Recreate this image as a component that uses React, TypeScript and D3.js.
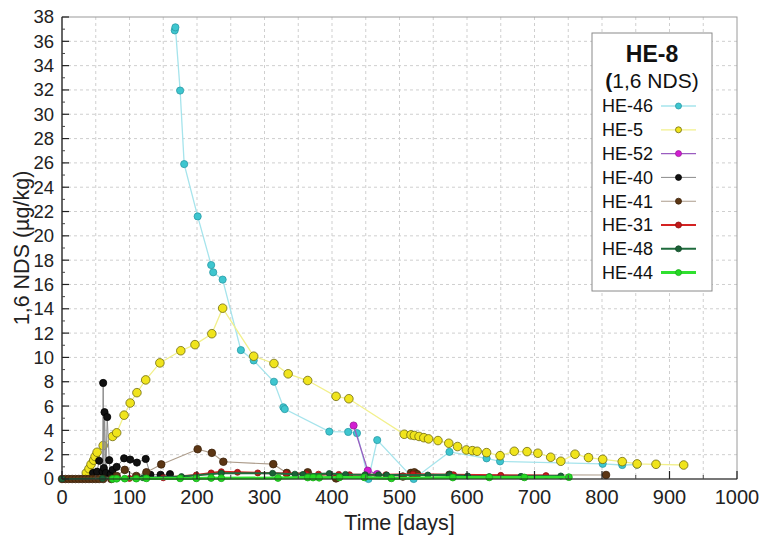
import React from 'react';
import * as d3 from 'd3';

// [day, value] pairs
const he46 = [
  [167, 36.9], [168, 37.15], [175, 31.95], [181, 25.9], [201, 21.6], [221, 17.6], [224, 17.0],
  [238, 16.4], [265, 10.6], [284, 9.75], [314, 8.0], [328, 5.9], [330, 5.75], [396, 3.9],
  [424, 3.87], [437, 3.77], [454, 0.0], [467, 3.2], [521, 0.0], [574, 2.23], [629, 1.7],
  [649, 1.45], [801, 1.25], [830, 1.15], [852, 1.18],
];
const he5 = [
  [36, 0.5], [40, 0.85], [43, 1.2], [47, 1.55], [49, 1.85], [52, 2.2], [61, 2.75], [75, 3.5],
  [81, 3.8], [92, 5.25], [101, 6.25], [111, 7.1], [124, 8.15], [145, 9.55], [176, 10.55],
  [197, 11.05], [222, 11.95], [238, 14.05], [284, 10.1], [314, 9.5], [335, 8.65], [364, 8.1],
  [406, 6.8], [425, 6.6], [507, 3.68], [517, 3.63], [522, 3.58], [529, 3.5], [536, 3.4],
  [543, 3.3], [557, 3.16], [573, 2.94], [586, 2.67], [599, 2.39], [608, 2.33], [615, 2.28],
  [629, 2.17], [649, 1.92], [670, 2.28], [689, 2.25], [705, 2.12], [724, 1.79], [739, 1.46],
  [760, 2.04], [780, 1.76], [801, 1.62], [830, 1.43], [852, 1.24], [880, 1.21], [921, 1.15],
];
const he52 = [[432, 4.4], [453, 0.69], [467, 0.41]];
const he40 = [
  [46, 0.5], [52, 0.6], [55, 1.5], [60, 0.6], [61, 7.9], [62, 0.9], [63, 5.5], [65, 0.5],
  [67, 5.1], [70, 1.55], [72, 0.4], [75, 0.75], [81, 1.0], [92, 1.7], [101, 1.6], [111, 1.35],
  [124, 1.65], [131, 0.35], [146, 0.35], [160, 0.4],
];
const he41 = [
  [0, 0], [5, 0], [10, 0], [15, 0], [20, 0], [25, 0], [30, 0], [35, 0], [40, 0], [45, 0],
  [50, 0], [55, 0], [61, 0], [73, 0], [81, 0.25], [93, 0.75], [110, 0.25], [125, 0.55],
  [147, 1.2], [201, 2.45], [222, 2.15], [239, 1.42], [313, 1.22], [333, 0.5], [364, 0.55],
  [406, 0.05], [505, 0.2], [517, 0.5], [522, 0.55], [526, 0.4], [574, 0.35], [806, 0.33],
];
const he31 = [
  [0, 0], [100, 0.05], [150, 0.1], [199, 0.33], [221, 0.5], [236, 0.6], [260, 0.55],
  [290, 0.5], [332, 0.45], [362, 0.42], [380, 0.4], [410, 0.38], [426, 0.35], [480, 0.35],
  [520, 0.4], [580, 0.35], [650, 0.3], [717, 0.28],
];
const he48 = [
  [0, 0], [60, 0.05], [120, 0.1], [177, 0.2], [236, 0.47], [312, 0.47], [345, 0.4],
  [357, 0.38], [396, 0.45], [420, 0.38], [449, 0.35], [469, 0.35], [481, 0.33], [542, 0.33],
  [574, 0.35], [601, 0.25], [633, 0.2], [680, 0.22], [739, 0.25],
];
const he44 = [
  [75, 0], [81, 0.02], [93, 0.03], [110, 0.03], [125, 0.05], [175, 0.05], [199, 0.05],
  [221, 0.08], [236, 0.06], [320, 0.08], [364, 0.12], [372, 0.12], [381, 0.1], [411, 0.13],
  [448, 0.13], [488, 0.05], [579, 0.12], [633, 0.13], [685, 0.13], [751, 0.15],
];

const seriesNames = ['HE-46', 'HE-5', 'HE-52', 'HE-40', 'HE-41', 'HE-31', 'HE-48', 'HE-44'];
const xTicks = [0, 100, 200, 300, 400, 500, 600, 700, 800, 900, 1000];
const yTicks = d3.range(0, 39, 2);

const series = [
  { name: 'HE-46', data: he46, line: '#a6e4ec', lw: 1.3, fill: '#3ec6cf', stroke: '#2a9ba6', r: 3.6 },
  { name: 'HE-5', data: he5, line: '#f2f08c', lw: 1.3, fill: '#f0e41c', stroke: '#6e6a10', r: 4.3 },
  { name: 'HE-52', data: he52, line: '#9a5cc0', lw: 1.3, fill: '#d21ed2', stroke: '#9a1a9a', r: 3.6 },
  { name: 'HE-40', data: he40, line: '#8a8a8a', lw: 1, fill: '#111', stroke: '#000', r: 3.6 },
  { name: 'HE-41', data: he41, line: '#ad9d8c', lw: 1.1, fill: '#5c3614', stroke: '#3c220a', r: 3.8 },
  { name: 'HE-31', data: he31, line: '#d42222', lw: 2, fill: '#c01a1a', stroke: '#901010', r: 3 },
  { name: 'HE-48', data: he48, line: '#1f6b3d', lw: 2, fill: '#1b6136', stroke: '#124a28', r: 3 },
  { name: 'HE-44', data: he44, line: '#2fe02f', lw: 3, fill: '#24d824', stroke: '#1aa81a', r: 3.4 },
];

const font = '"Liberation Sans", Arial, sans-serif';

export default function App() {
  const W = 761, H = 537;
  const m = { left: 62, right: 737, top: 17, bottom: 479 };
  const x = d3.scaleLinear().domain([0, 1000]).range([m.left, m.right]);
  const y = d3.scaleLinear().domain([0, 38]).range([m.bottom, m.top]);
  const line = d3.line<number[]>().x(d => x(d[0])).y(d => y(d[1]));

  const gridX = d3.range(50, 1000, 50);
  const gridY = d3.range(2, 38, 2);
  const minorY = d3.range(1, 38, 2);
  const minorX = d3.range(50, 1000, 100);

  const lg = { x: 592, y: 33, w: 120, h: 258 };

  return (
    <svg width={W} height={H} style={{ position: 'absolute', left: 0, top: 0, fontFamily: font }}>
      <rect width={W} height={H} fill="#fff" />
      {gridX.map(v => (
        <line key={'gx' + v} x1={x(v)} x2={x(v)} y1={m.top} y2={m.bottom} stroke="#cfcfcf" strokeDasharray="3,3" />
      ))}
      {gridY.map(v => (
        <line key={'gy' + v} x1={m.left} x2={m.right} y1={y(v)} y2={y(v)} stroke="#cfcfcf" strokeDasharray="3,3" />
      ))}
      <rect x={m.left} y={m.top} width={m.right - m.left} height={m.bottom - m.top} fill="none" stroke="#9a9a9a" />

      {series.map(s => (
        <g key={s.name}>
          <path d={line(s.data as number[][]) || ''} fill="none" stroke={s.line} strokeWidth={s.lw} />
          {s.data.map((d, i) => (
            <circle key={i} cx={x(d[0])} cy={y(d[1])} r={s.r} fill={s.fill} stroke={s.stroke} strokeWidth={0.8} />
          ))}
        </g>
      ))}

      {/* axes */}
      <line x1={m.left} x2={m.left} y1={m.top} y2={m.bottom} stroke="#222" strokeWidth={1.2} />
      <line x1={m.left} x2={m.right} y1={m.bottom} y2={m.bottom} stroke="#222" strokeWidth={1.2} />
      {yTicks.map(v => (
        <g key={'yt' + v}>
          <line x1={m.left} x2={m.left + 7} y1={y(v)} y2={y(v)} stroke="#222" strokeWidth={1.2} />
          <text x={m.left - 8} y={y(v)} dy="0.35em" textAnchor="end" fontSize={18.5} fill="#222">{v}</text>
        </g>
      ))}
      {minorY.map(v => (
        <line key={'my' + v} x1={m.left} x2={m.left + 3} y1={y(v)} y2={y(v)} stroke="#444" />
      ))}
      {xTicks.map(v => (
        <g key={'xt' + v}>
          <line x1={x(v)} x2={x(v)} y1={m.bottom} y2={m.bottom - 8} stroke="#222" strokeWidth={1.2} />
          <text x={x(v)} y={m.bottom + 25} textAnchor="middle" fontSize={20} fill="#222">{v}</text>
        </g>
      ))}
      {minorX.map(v => (
        <line key={'mx' + v} x1={x(v)} x2={x(v)} y1={m.bottom} y2={m.bottom - 4} stroke="#444" />
      ))}
      <text x={(m.left + m.right) / 2} y={530} textAnchor="middle" fontSize={21.5} fill="#222">Time [days]</text>
      <text transform={`translate(29,${(m.top + m.bottom) / 2}) rotate(-90)`} textAnchor="middle" fontSize={21.5} fill="#222">
        1,6 NDS (µg/kg)
      </text>

      {/* legend */}
      <rect x={lg.x} y={lg.y} width={lg.w} height={lg.h} fill="#fff" stroke="#8a8a8a" />
      <text x={lg.x + lg.w / 2} y={62} textAnchor="middle" fontSize={23} fontWeight="bold" fill="#111">HE-8</text>
      <text x={lg.x + lg.w / 2} y={88} textAnchor="middle" fontSize={21} fill="#111">
        <tspan fontWeight="bold">(</tspan>1,6 NDS)
      </text>
      {seriesNames.map((n, i) => {
        const s = series[i];
        const ly = 106 + i * 23.8;
        return (
          <g key={'lg' + n}>
            <text x={602} y={ly} dy="0.35em" fontSize={18} fill="#111">{n}</text>
            <line x1={661} x2={696} y1={ly} y2={ly} stroke={s.line} strokeWidth={s.lw} />
            <circle cx={678.5} cy={ly} r={Math.min(s.r, 3)} fill={s.fill} stroke={s.stroke} strokeWidth={0.8} />
          </g>
        );
      })}
    </svg>
  );
}
